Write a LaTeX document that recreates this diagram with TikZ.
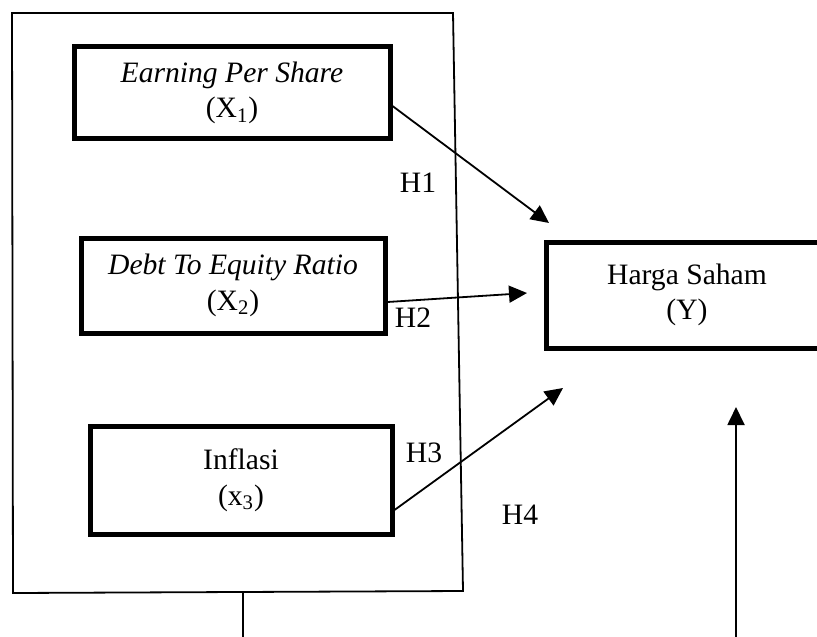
\documentclass[tikz,border=0pt]{standalone}
\usepackage{fontspec}
\setmainfont{Liberation Serif}
\usetikzlibrary{arrows.meta,calc}

\begin{document}
\begin{tikzpicture}[x=0.5pt, y=-0.5pt,
    varbox/.style={draw, line width=2.5pt, inner sep=0pt, align=center, font=\fontsize{14.8}{17.8}\selectfont},
    link/.style={line width=0.9pt, -{Triangle[length=9pt,width=8.5pt]}},
    hyp/.style={font=\fontsize{14.8}{17.8}\selectfont}]
  \useasboundingbox (0,0) rectangle (817,636);

  % outer frame round the independent variables
  \draw[line width=0.9pt] (12,13) -- (453,13) -- (463,591) -- (13,593) -- cycle;
  \coordinate (framebottom) at (243,592);

  % variables
  \node[varbox, minimum width=158pt, minimum height=46pt] (x1) at (232,93) {\textit{Earning Per Share}\\(X\textsubscript{1})};
  \node[varbox, minimum width=152pt, minimum height=47.5pt] (x2) at (233,285.5) {\textit{Debt To Equity Ratio}\\(X\textsubscript{2})};
  \node[varbox, minimum width=151pt, minimum height=54pt] (x3) at (241,480) {Inflasi\\(x\textsubscript{3})};
  \node[varbox, minimum width=141pt, minimum height=53pt] (y) at (687,295) {Harga Saham\\(Y)};

  % arrow tips
  \coordinate (h1tip) at (549,223);
  \coordinate (h2tip) at (527,293);
  \coordinate (h3tip) at (563,388);
  \coordinate (h4tip) at (736,407);

  % hypotheses
  \draw[link] ($(x1.east)+(0,13)$) -- (h1tip);
  \draw[link] ($(x2.east)+(0,16.5)$) -- (h2tip);
  \draw[link] ($(x3.east)+(0,30)$) -- (h3tip);
  \draw[link] (framebottom) -- (243,637.5) -- (736,637.5) -- (h4tip);

  \node[hyp] (h1) at (418,183) {H1};
  \node[hyp] (h2) at (413,318) {H2};
  \node[hyp] (h3) at (424,453) {H3};
  \node[hyp] (h4) at (520,515) {H4};
\end{tikzpicture}
\end{document}
